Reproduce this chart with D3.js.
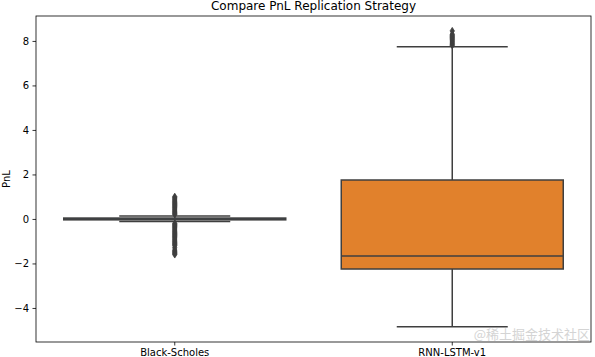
<!DOCTYPE html>
<html>
<head>
<meta charset="utf-8">
<script src="https://cdn.jsdelivr.net/npm/d3@7"></script>
<style>
  body { margin: 0; background: #fff; }
  svg text { font-family: "DejaVu Sans", sans-serif; }
</style>
</head>
<body>
<svg width="595" height="357"></svg>
<script>
// ~~~~~~ DATA ~~~~~~
var categories = ["Black-Scholes", "RNN-LSTM-v1"];
var boxColors = ["#3274a1", "#e1812c"];
// box stats: [whiskerLow, q1, median, q3, whiskerHigh]
var bsStats = [-0.12, -0.04, 0.0, 0.04, 0.13];
var rnnStats = [-4.84, -2.25, -1.66, 1.75, 7.74];
// outliers
var bsFliers = [1.0, 0.95, 0.9, 0.85, 0.8, 0.75, 0.7, 0.65, 0.6, 0.55, 0.5, 0.45, 0.4, 0.35, 0.3, 0.25, 0.2,
                -0.2, -0.25, -0.3, -0.35, -0.4, -0.45, -0.5, -0.55, -0.6, -0.65, -0.7, -0.75, -0.8, -0.85, -0.9,
                -0.95, -1.0, -1.05, -1.1, -1.15, -1.2, -1.3, -1.4, -1.45, -1.5, -1.55, -1.6];
var rnnFliers = [7.8, 7.85, 7.9, 7.95, 8.0, 8.05, 8.1, 8.15, 8.2, 8.25, 8.3, 8.45];
var yTicks = [-4, -2, 0, 2, 4, 6, 8];

var stats = [bsStats, rnnStats];
var fliers = [bsFliers, rnnFliers];

// ~~~~~~ SVG ~~~~~~
var svg = d3.select("svg"),
    margin = {top: 16, right: 4, bottom: 15, left: 36},
    width = +svg.attr("width") - margin.left - margin.right,
    height = +svg.attr("height") - margin.top - margin.bottom;

var g = svg.append("g")
    .attr("transform", "translate(" + margin.left + "," + margin.top + ")");

// ~~~~~~ SCALES ~~~~~~
var x = d3.scaleBand().domain(categories).range([0, width]).paddingInner(0).paddingOuter(0);
var y = d3.scaleLinear().domain([-5.53, 9.12]).range([height, 0]);

var lineColor = "#3f3f3f";
var boxW = x.bandwidth() * 0.8;

// ~~~~~~ BOXES ~~~~~~
categories.forEach(function(c, i) {
  var s = stats[i];
  var cx = x(c) + x.bandwidth() / 2;
  var bg = g.append("g");

  // whiskers
  bg.append("line").attr("x1", cx).attr("x2", cx).attr("y1", y(s[0])).attr("y2", y(s[1]))
    .attr("stroke", lineColor).attr("stroke-width", 1.5);
  bg.append("line").attr("x1", cx).attr("x2", cx).attr("y1", y(s[3])).attr("y2", y(s[4]))
    .attr("stroke", lineColor).attr("stroke-width", 1.5);
  // caps
  [s[0], s[4]].forEach(function(v) {
    bg.append("line").attr("x1", cx - boxW / 4).attr("x2", cx + boxW / 4)
      .attr("y1", y(v)).attr("y2", y(v))
      .attr("stroke", lineColor).attr("stroke-width", 1.5);
  });
  // box
  bg.append("rect")
    .attr("x", cx - boxW / 2)
    .attr("y", y(s[3]))
    .attr("width", boxW)
    .attr("height", y(s[1]) - y(s[3]))
    .attr("fill", boxColors[i])
    .attr("stroke", lineColor)
    .attr("stroke-width", 1.5);
  // median
  bg.append("line").attr("x1", cx - boxW / 2).attr("x2", cx + boxW / 2)
    .attr("y1", y(s[2])).attr("y2", y(s[2]))
    .attr("stroke", lineColor).attr("stroke-width", 1.5);

  // fliers (thin diamonds)
  bg.selectAll(".flier")
    .data(fliers[i])
    .enter()
    .append("path")
    .attr("class", "flier")
    .attr("d", function(d) {
      var py = y(d);
      return "M" + cx + "," + (py - 3.5) + "L" + (cx + 2.2) + "," + py +
             "L" + cx + "," + (py + 3.5) + "L" + (cx - 2.2) + "," + py + "Z";
    })
    .attr("fill", lineColor)
    .attr("stroke", lineColor)
    .attr("stroke-width", 0.8);
});

// ~~~~~~ AXES ~~~~~~
var yAxis = g.append("g")
  .call(d3.axisLeft(y).tickValues(yTicks).tickSize(3.5).tickPadding(3.5)
        .tickFormat(function(d) { return d < 0 ? "\u2212" + Math.abs(d) : d; }));
var xAxis = g.append("g")
  .attr("transform", "translate(0," + height + ")")
  .call(d3.axisBottom(x).tickSize(3.5).tickPadding(3.5));

[xAxis, yAxis].forEach(function(a) {
  a.select(".domain").remove();
  a.selectAll("line").attr("stroke", "#000").attr("stroke-width", 0.8);
  a.selectAll("text").attr("fill", "#000").style("font-size", "10px")
   .style("font-family", "DejaVu Sans, sans-serif");
});

// frame
g.append("rect")
  .attr("x", 0).attr("y", 0).attr("width", width).attr("height", height)
  .attr("fill", "none").attr("stroke", "#000").attr("stroke-width", 0.8);

// title
svg.append("text")
  .attr("x", margin.left + width / 2)
  .attr("y", 10)
  .attr("text-anchor", "middle")
  .style("font-size", "12px")
  .attr("fill", "#000")
  .text("Compare PnL Replication Strategy");

// y label
svg.append("text")
  .attr("transform", "translate(10," + (margin.top + height / 2) + ") rotate(-90)")
  .attr("text-anchor", "middle")
  .style("font-size", "10px")
  .attr("fill", "#000")
  .text("PnL");

// watermark
svg.append("text")
  .attr("x", 590)
  .attr("y", 339)
  .attr("text-anchor", "end")
  .style("font-family", "Noto Sans CJK SC, sans-serif")
  .style("font-size", "13px")
  .attr("fill", "#d4d4d4")
  .text("@稀土掘金技术社区");
</script>
</body>
</html>
